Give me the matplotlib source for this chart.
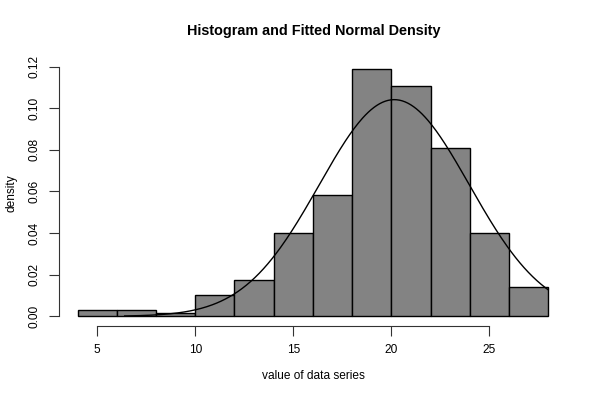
import numpy as np
import matplotlib.pyplot as plt

plt.rcParams['font.family'] = ['Liberation Sans', 'DejaVu Sans']

# histogram bins (breaks) and densities
breaks = [4, 6, 8, 10, 12, 14, 16, 18, 20, 22, 24, 26, 28]
density = [0.0030, 0.0030, 0.0017, 0.0100, 0.0175, 0.0400, 0.0585,
           0.1189, 0.1106, 0.0811, 0.0399, 0.0141]

# fitted normal
mu = 20.15
sigma = 3.83
curve_from = 6.4
curve_to = 28.0

fig = plt.figure(figsize=(6, 4), dpi=100)
ax = fig.add_axes([0.098, 0.1845, 0.847, 0.668])

left = breaks[:-1]
widths = np.diff(breaks)
ax.bar(left, density, width=widths, align='edge', color='#838383',
       edgecolor='black', linewidth=1.0)

xs = np.linspace(curve_from, curve_to, 300)
ys = np.exp(-0.5 * ((xs - mu) / sigma) ** 2) / (sigma * np.sqrt(2 * np.pi))
ax.plot(xs, ys, color='black', linewidth=1.0)

ax.set_xlim(3.04, 28.96)
ax.set_ylim(-0.00476, 0.1237)

ax.set_xticks([5, 10, 15, 20, 25])
ax.set_yticks([0.0, 0.02, 0.04, 0.06, 0.08, 0.10, 0.12])
ax.set_yticklabels(['0.00', '0.02', '0.04', '0.06', '0.08', '0.10', '0.12'],
                   rotation=90, va='center')
ax.tick_params(direction='out', length=7, width=0.8, labelsize=8.6, pad=6,
               color='#333333')

for s in ['top', 'right']:
    ax.spines[s].set_visible(False)
ax.spines['left'].set_bounds(0.0, 0.12)
ax.spines['bottom'].set_bounds(5, 25)
ax.spines['left'].set_color('#333333')
ax.spines['bottom'].set_color('#333333')

fig.text(0.522, 0.06, 'value of data series', ha='center', va='center',
         fontsize=8.6)
fig.text(0.02, 0.517, 'density', ha='center', va='center', rotation=90,
         fontsize=8.6)
fig.text(0.523, 0.922, 'Histogram and Fitted Normal Density',
         ha='center', va='center', fontsize=10.4, fontweight='bold')

fig.savefig('out.png', dpi=100)
